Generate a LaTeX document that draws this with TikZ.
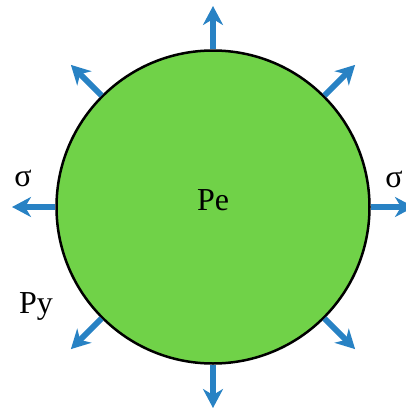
\documentclass[tikz,border=0pt]{standalone}
\usepackage{fontspec}
\setmainfont{Liberation Serif}
\usetikzlibrary{arrows.meta,calc}
\definecolor{cellgreen}{RGB}{112,210,72}
\definecolor{forceblue}{RGB}{40,130,196}

\begin{document}
\begin{tikzpicture}[x=1pt,y=-1pt,
    cell/.style={circle,draw=black,line width=2.5pt,fill=cellgreen,
      minimum size=313pt,inner sep=0pt},
    force/.style={forceblue,line width=6pt,
      -{Stealth[length=19pt,width=20pt,inset=6pt]}},
    lbl/.style={font=\fontsize{32}{34}\selectfont,anchor=base,inner sep=0pt}]
    \useasboundingbox (0,0) rectangle (406,410);
    % cell
    \node[cell] (cell) at (213,207) {};
    % stress arrows all round
    \foreach \a in {0,45,...,315}{
      \coordinate (tip-\a) at ($(cell.center)!201pt!(cell.\a)$);
      \draw[force] (cell.\a) -- (tip-\a);
    }
    % labels
    \node[lbl] (pe) at (213,210) {Pe};
    \node[lbl] (py) at (36,313) {Py};
    \node[lbl] (sigmaL) at (23,186) {σ};
    \node[lbl] (sigmaR) at (394,187) {σ};
\end{tikzpicture}
\end{document}
